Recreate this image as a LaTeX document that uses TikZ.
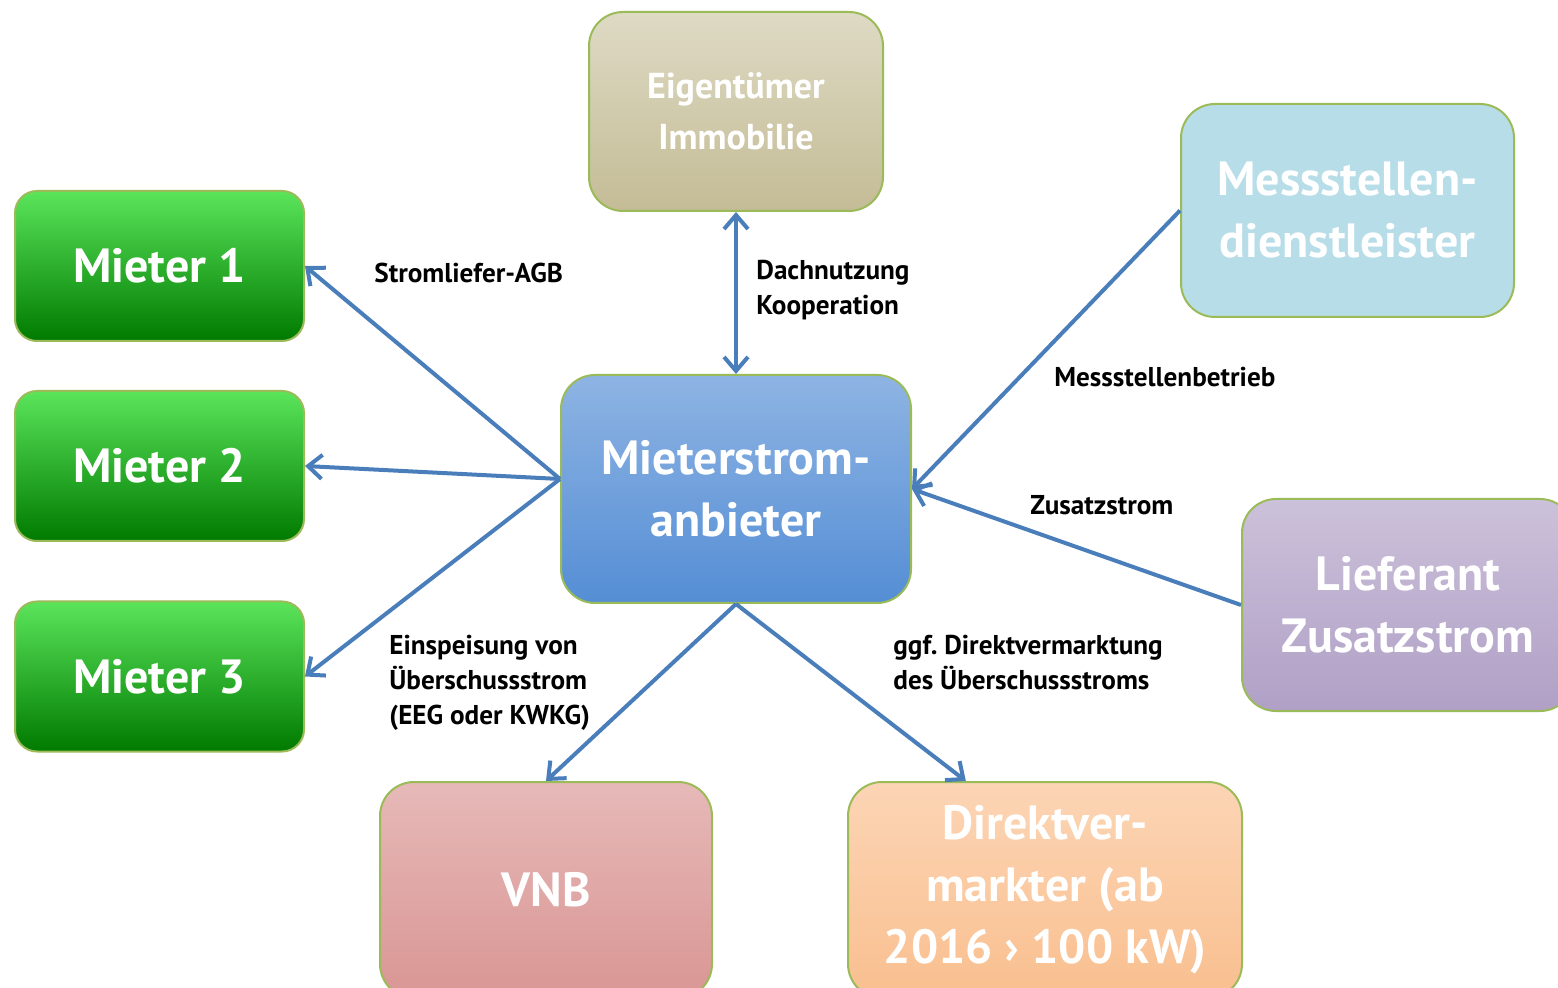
\documentclass[tikz,border=0pt]{standalone}
\usepackage{fontspec}
\setmainfont{PT Sans}
\usetikzlibrary{arrows.meta}

\definecolor{linkblue}{HTML}{4A7EBB}
\definecolor{boxline}{HTML}{9BBB59}
\definecolor{greentop}{HTML}{5BE55B}
\definecolor{greenmid}{HTML}{058A05}
\definecolor{greenbot}{HTML}{007A00}
\definecolor{sandtop}{HTML}{DEDAC4}
\definecolor{sandbot}{HTML}{C4BC96}
\definecolor{bluetop}{HTML}{8EB4E3}
\definecolor{bluebot}{HTML}{558ED5}
\definecolor{cyanfill}{HTML}{B7DDE8}
\definecolor{liltop}{HTML}{CCC1DA}
\definecolor{lilbot}{HTML}{B0A0C6}
\definecolor{rosetop}{HTML}{E6B9B8}
\definecolor{rosebot}{HTML}{D99694}
\definecolor{peachtop}{HTML}{FCD5B5}
\definecolor{peachbot}{HTML}{F9BF8F}

\tikzset{
  box/.style={draw=boxline, line width=1pt, rounded corners=17pt, text=white, align=center, inner sep=0pt,
    font=\bfseries\fontsize{24}{31}\selectfont},
  tenant/.style={box, rounded corners=11pt, minimum width=144.5pt, minimum height=75pt,
    top color=greentop, middle color=greenmid, bottom color=greenbot},
  link/.style={draw=linkblue, line width=2pt, -{Straight Barb[length=7pt,width=12pt]}},
  lbl/.style={font=\bfseries\fontsize{13.6}{17.5}\selectfont, align=left, anchor=west, inner sep=0pt}
}

\begin{document}
\begin{tikzpicture}[x=0.5pt,y=-0.5pt]
\useasboundingbox (0,0) rectangle (1558,988);

\node[tenant] (m1) at (159.5,266) {Mieter 1};
\node[tenant] (m2) at (159.5,466) {Mieter 2};
\node[tenant] (m3) at (159.5,676.5) {Mieter 3};

\node[box, minimum width=147pt, minimum height=99.5pt, top color=sandtop, bottom color=sandbot,
  font=\bfseries\fontsize{18}{25.5}\selectfont] (eig) at (736,111.5) {Eigentümer\\Immobilie};
\node[box, minimum width=175pt, minimum height=114pt, top color=bluetop, bottom color=bluebot] (anb) at (736,489) {Mieterstrom-\\anbieter};
\node[box, minimum width=166.5pt, minimum height=106.5pt, fill=cyanfill] (mess) at (1347.5,210.5) {Messstellen-\\dienstleister};
\node[box, minimum width=166pt, minimum height=106pt, top color=liltop, bottom color=lilbot] (lief) at (1408,605) {Lieferant\\Zusatzstrom};
\node[box, minimum width=166pt, minimum height=108pt, top color=rosetop, bottom color=rosebot] (vnb) at (546,890) {VNB};
\node[box, minimum width=197pt, minimum height=108pt, top color=peachtop, bottom color=peachbot] (dv) at (1045,890) {Direktver-\\markter (ab\\2016 › 100 kW)};

\draw[link] ([yshift=5pt]anb.west) -- (m1.east);
\draw[link] ([yshift=5pt]anb.west) -- (m2.east);
\draw[link] ([yshift=5pt]anb.west) -- (m3.east);
\draw[link, {Straight Barb[length=7pt,width=12pt]}-{Straight Barb[length=7pt,width=12pt]}] (eig.south) -- (anb.north);
\draw[link] (mess.west) -- (anb.east);
\draw[link] (lief.west) -- (anb.east);
\draw[link] (anb.south) -- (vnb.north);
\draw[link] (anb.south) -- (dv.126);

\node[lbl] (l1) at (374,273) {Stromliefer-AGB};
\node[lbl] (l2) at (756,290.5) {Dachnutzung\\Kooperation};
\node[lbl] (l3) at (1054,377) {Messstellenbetrieb};
\node[lbl] (l4) at (1030,505) {Zusatzstrom};
\node[lbl] (l5) at (389,682.5) {Einspeisung von\\Überschussstrom\\(EEG oder KWKG)};
\node[lbl] (l6) at (893,662.5) {ggf.\ Direktvermarktung\\des Überschussstroms};
\end{tikzpicture}
\end{document}
